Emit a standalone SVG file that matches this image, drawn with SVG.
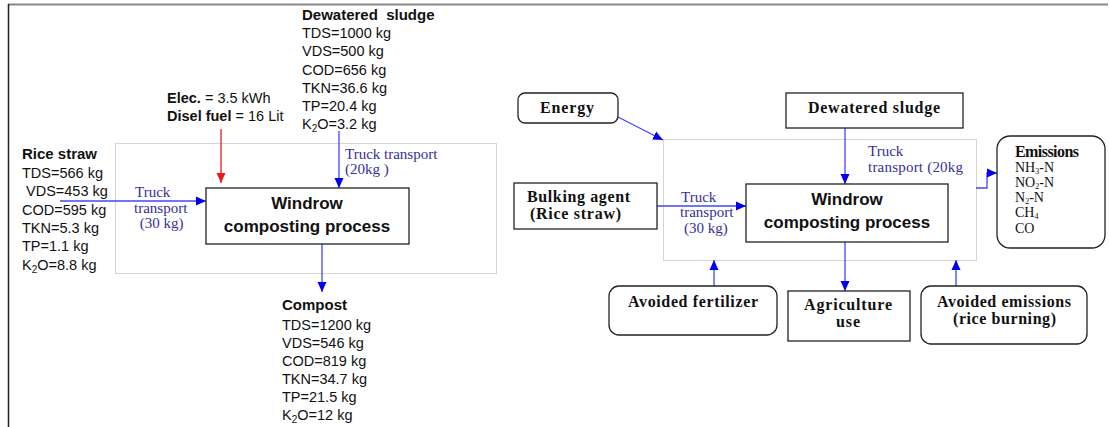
<svg xmlns="http://www.w3.org/2000/svg" width="1109" height="427" viewBox="0 0 1109 427">
<style>
.sans{font-family:"Liberation Sans",Arial,sans-serif;fill:#111;font-size:14.5px}
.sansb{font-family:"Liberation Sans",Arial,sans-serif;fill:#111;font-size:15px;font-weight:bold}
.big{font-family:"Liberation Sans",Arial,sans-serif;fill:#111;font-size:17px;font-weight:bold;text-anchor:middle}
.serifb{font-family:"Liberation Serif","Times New Roman",serif;fill:#111;font-size:16px;font-weight:bold}
.serif{font-family:"Liberation Serif","Times New Roman",serif;fill:#111;font-size:14px}
.blue{font-family:"Liberation Serif","Times New Roman",serif;fill:#35309a;font-size:15px}
.box{fill:#fff;stroke:#222;stroke-width:1.3}
.dot{fill:none;stroke:#aaa;stroke-width:1;stroke-dasharray:1 1}
.bl{fill:none;stroke:#4444ff;stroke-width:1.3}
.rd{fill:none;stroke:#e81c1c;stroke-width:1.3}
</style>
<defs>
<marker id="ab" markerUnits="userSpaceOnUse" markerWidth="10" markerHeight="10" refX="10" refY="5" orient="auto"><path d="M0,0.5 L10,5 L0,9.5 z" fill="#0000ee"/></marker>
<marker id="ar" markerUnits="userSpaceOnUse" markerWidth="10" markerHeight="10" refX="10" refY="5" orient="auto"><path d="M0,0.5 L10,5 L0,9.5 z" fill="#e81c1c"/></marker>
</defs>
<rect width="1109" height="427" fill="#fff"/>
<g id="frame">
<line x1="8" y1="4.5" x2="1108" y2="4.5" stroke="#888" stroke-width="2"/>
<line x1="8.5" y1="4" x2="8.5" y2="427" stroke="#222" stroke-width="1.5"/>
</g>
<rect class="dot" x="115.5" y="143.5" width="381" height="130"/>
<rect class="dot" x="663.5" y="139.5" width="313" height="121"/>

<g id="connectors">
<line class="rd" x1="221" y1="129" x2="221" y2="183" marker-end="url(#ar)"/>
<line class="bl" x1="339" y1="131" x2="339" y2="188" marker-end="url(#ab)"/>
<line class="bl" x1="60" y1="201" x2="206" y2="201" marker-end="url(#ab)"/>
<line class="bl" x1="322" y1="244" x2="322" y2="292" marker-end="url(#ab)"/>
<line class="bl" x1="618" y1="117" x2="663" y2="140" marker-end="url(#ab)"/>
<line class="bl" x1="657" y1="206" x2="746" y2="206" marker-end="url(#ab)"/>
<line class="bl" x1="845" y1="128" x2="845" y2="184" marker-end="url(#ab)"/>
<path class="bl" d="M976,188 H987 V173 H997" marker-end="url(#ab)"/>
<line class="bl" x1="845" y1="242" x2="845" y2="291" marker-end="url(#ab)"/>
<line class="bl" x1="714" y1="286" x2="714" y2="260" marker-end="url(#ab)"/>
<line class="bl" x1="956" y1="286" x2="956" y2="260" marker-end="url(#ab)"/>
</g>

<g id="sludge-left">
<text class="sansb" x="302" y="20" xml:space="preserve">Dewatered  sludge</text>
<text class="sans" x="302" y="38">TDS=1000 kg</text>
<text class="sans" x="302" y="56">VDS=500 kg</text>
<text class="sans" x="302" y="75">COD=656 kg</text>
<text class="sans" x="302" y="93">TKN=36.6 kg</text>
<text class="sans" x="302" y="111">TP=20.4 kg</text>
<text class="sans" x="302" y="129">K<tspan font-size="10" dy="3">2</tspan><tspan dy="-3">O=3.2 kg</tspan></text>
</g>
<g id="energy-left">
<text class="sans" x="167" y="103"><tspan font-weight="bold">Elec.</tspan> = 3.5 kWh</text>
<text class="sans" x="167" y="121"><tspan font-weight="bold">Disel fuel</tspan> = 16 Lit</text>
</g>
<g id="rice-left">
<text class="sansb" x="22" y="159">Rice straw</text>
<text class="sans" x="22" y="178">TDS=566 kg</text>
<text class="sans" x="22" y="196" xml:space="preserve"> VDS=453 kg</text>
<text class="sans" x="22" y="215">COD=595 kg</text>
<text class="sans" x="22" y="233">TKN=5.3 kg</text>
<text class="sans" x="22" y="251">TP=1.1 kg</text>
<text class="sans" x="22" y="270">K<tspan font-size="10" dy="3">2</tspan><tspan dy="-3">O=8.8 kg</tspan></text>
</g>
<g id="labels-left">
<text class="blue" x="135" y="197">Truck</text>
<text class="blue" x="134" y="213">transport</text>
<text class="blue" x="136" y="228" xml:space="preserve"> (30 kg)</text>
<text class="blue" x="345" y="159">Truck transport</text>
<text class="blue" x="345" y="174">(20kg )</text>
</g>
<g id="windrow-left">
<rect class="box" x="206" y="188" width="203" height="56"/>
<text class="big" x="307" y="209">Windrow</text>
<text class="big" x="307" y="232">composting process</text>
</g>
<g id="compost-left">
<text class="sansb" x="282" y="310">Compost</text>
<text class="sans" x="282" y="330">TDS=1200 kg</text>
<text class="sans" x="282" y="348">VDS=546 kg</text>
<text class="sans" x="282" y="366">COD=819 kg</text>
<text class="sans" x="282" y="384">TKN=34.7 kg</text>
<text class="sans" x="282" y="402">TP=21.5 kg</text>
<text class="sans" x="282" y="420">K<tspan font-size="10" dy="3">2</tspan><tspan dy="-3">O=12 kg</tspan></text>
</g>

<g id="energy">
<rect class="box" x="518" y="93" width="100" height="30" rx="7"/>
<text class="serifb" x="540" y="113" textLength="54">Energy</text>
</g>
<g id="bulking">
<rect class="box" x="514" y="183" width="143" height="46"/>
<text class="serifb" x="527" y="202" textLength="103">Bulking agent</text>
<text class="serifb" x="530" y="219" textLength="91">(Rice straw)</text>
</g>
<g id="labels-right">
<text class="blue" x="681" y="202">Truck</text>
<text class="blue" x="680" y="217">transport</text>
<text class="blue" x="684" y="233">(30 kg)</text>
<text class="blue" x="868" y="156">Truck</text>
<text class="blue" x="868" y="172" textLength="95">transport (20kg</text>
</g>
<g id="sludge-right">
<rect class="box" x="786" y="93" width="177" height="35"/>
<text class="serifb" x="808" y="113" textLength="132">Dewatered sludge</text>
</g>
<g id="windrow-right">
<rect class="box" x="746" y="184" width="202" height="58"/>
<text class="big" x="847" y="205">Windrow</text>
<text class="big" x="847" y="228">composting process</text>
</g>
<g id="emissions">
<rect class="box" x="997" y="136" width="108" height="112" rx="13"/>
<text class="serifb" x="1015" y="157" font-size="14" textLength="64">Emissions</text>
<text class="serif" x="1015" y="172">NH<tspan font-size="8" dy="2">3</tspan><tspan dy="-2">-N</tspan></text>
<text class="serif" x="1015" y="187">NO<tspan font-size="8" dy="2">2</tspan><tspan dy="-2">-N</tspan></text>
<text class="serif" x="1015" y="202">N<tspan font-size="8" dy="2">2</tspan><tspan dy="-2">-N</tspan></text>
<text class="serif" x="1015" y="217">CH<tspan font-size="8" dy="2">4</tspan></text>
<text class="serif" x="1015" y="233">CO</text>
</g>
<g id="avoided-fertilizer">
<rect class="box" x="609" y="286" width="168" height="49" rx="10"/>
<text class="serifb" x="628" y="307" textLength="130">Avoided fertilizer</text>
</g>
<g id="agriculture">
<rect class="box" x="788" y="291" width="122" height="50"/>
<text class="serifb" x="804" y="310" textLength="88">Agriculture</text>
<text class="serifb" x="836" y="327" textLength="24">use</text>
</g>
<g id="avoided-emissions">
<rect class="box" x="921" y="286" width="166" height="58" rx="10"/>
<text class="serifb" x="937" y="307" textLength="134">Avoided emissions</text>
<text class="serifb" x="953" y="324" textLength="103">(rice burning)</text>
</g>
</svg>
